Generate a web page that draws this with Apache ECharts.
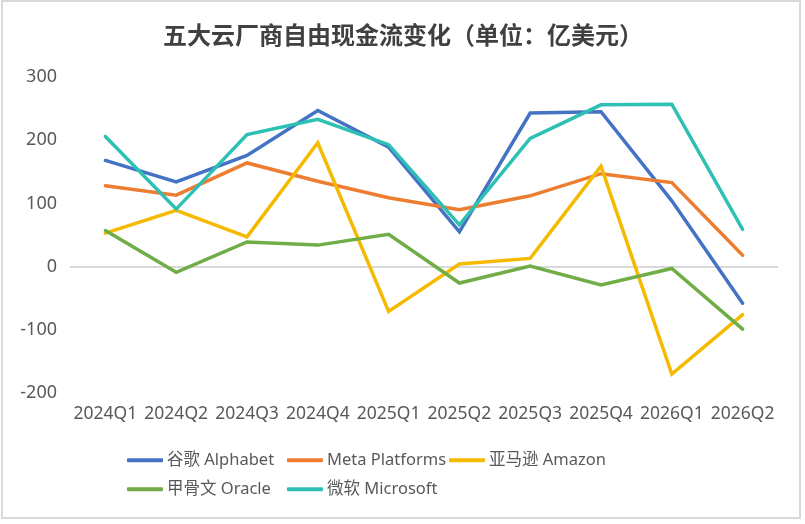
<!DOCTYPE html>
<html>
<head>
<meta charset="utf-8">
<script src="https://cdn.jsdelivr.net/npm/echarts@6/dist/echarts.min.js"></script>
<style>
   html, body { margin: 0; padding: 0; background: #fff; }
   #main { width: 805px; height: 524px; }
</style>
</head>
<body>
<div id="main"></div>
<script>
// 季度
var quarters = [ '2024Q1', '2024Q2', '2024Q3', '2024Q4', '2025Q1', '2025Q2', '2025Q3', '2025Q4', '2026Q1', '2026Q2' ] ;
// 自由现金流（亿美元）
var alphabet  = [ 168, 134, 176, 247, 189, 55, 243, 245, 104, -58 ] ;
var meta      = [ 128, 113, 164, 135, 109, 90, 112, 147, 133, 18 ] ;
var amazon    = [ 53, 89, 47, 196, -71, 4, 13, 159, -170, -76 ] ;
var oracle    = [ 57, -9, 39, 34, 51, -26, 1, -29, -3, -99 ] ;
var microsoft = [ 206, 91, 209, 233, 193, 66, 203, 256, 257, 59 ] ;
var seriesNames = [ '谷歌 Alphabet', 'Meta Platforms', '亚马逊 Amazon', '甲骨文 Oracle', '微软 Microsoft' ] ;
var seriesData = [ alphabet, meta, amazon, oracle, microsoft ] ;
var colors = [ '#4472C4', '#ED7D31', '#F5BA00', '#70AD47', '#2EC0B4' ] ;
var yTicks = { min: -200, max: 300, step: 100 } ;

(function(){
   var font = '"Noto Sans", "Noto Sans CJK SC", sans-serif' ;
   var chart = echarts.init( document.getElementById( 'main' ) ) ;

   var series = [] ;
   $each( seriesNames, function( i, name ){
      series.push( {
         name: name,
         type: 'line',
         data: seriesData[i],
         symbol: 'none',
         smooth: false,
         lineStyle: { width: 3.5, color: colors[i], cap: 'round', join: 'miter' },
         itemStyle: { color: colors[i] },
         z: 2 + i
      } ) ;
   } ) ;

   //图例位置，逐项放置
   var legendPos = [ [ 127, 452 ], [ 287, 452 ], [ 449, 452 ], [ 127, 481 ], [ 287, 481 ] ] ;
   var legends = [] ;
   $each( seriesNames, function( i, name ){
      legends.push( {
         data: [ name ],
         left: legendPos[i][0],
         top: legendPos[i][1],
         icon: 'roundRect',
         itemWidth: 36,
         itemHeight: 4,
         itemGap: 0,
         padding: 0,
         textStyle: { fontSize: 16.5, color: '#595959', fontFamily: font, padding: [ 0, 0, 0, -1 ] }
      } ) ;
   } ) ;

   var option = {
      animation: false,
      backgroundColor: '#fff',
      color: colors,
      title: {
         text: '五大云厂商自由现金流变化（单位：亿美元）',
         left: 398,
         textAlign: 'center',
         top: 20,
         textStyle: { fontSize: 24, fontWeight: 'bold', color: '#404040', fontFamily: font }
      },
      legend: legends,
      grid: { left: 70, right: 27, top: 77, bottom: 131, containLabel: false },
      xAxis: {
         type: 'category',
         data: quarters,
         boundaryGap: true,
         axisLine: { show: false, onZero: false },
         axisTick: { show: false },
         axisLabel: { fontSize: 17.5, color: '#595959', margin: 12, fontFamily: font, interval: 0 }
      },
      yAxis: {
         type: 'value',
         min: yTicks.min,
         max: yTicks.max,
         interval: yTicks.step,
         axisLine: { show: false },
         axisTick: { show: false },
         axisLabel: { fontSize: 18, color: '#595959', margin: 13, fontFamily: font },
         //只显示零线
         splitLine: { show: true, lineStyle: { width: 2, color: [ 'rgba(0,0,0,0)', 'rgba(0,0,0,0)', '#D9D9D9', 'rgba(0,0,0,0)', 'rgba(0,0,0,0)', 'rgba(0,0,0,0)' ] } }
      },
      graphic: [ {
         type: 'rect',
         shape: { x: 2, y: 1, width: 798, height: 517 },
         style: { fill: 'none', stroke: '#D9D9D9', lineWidth: 2 },
         silent: true
      } ],
      series: series
   } ;
   chart.setOption( option ) ;

   function $each( arr, fn )
   {
      for( var i = 0; i < arr.length; ++i ) fn( i, arr[i] ) ;
   }
}());
</script>
</body>
</html>
